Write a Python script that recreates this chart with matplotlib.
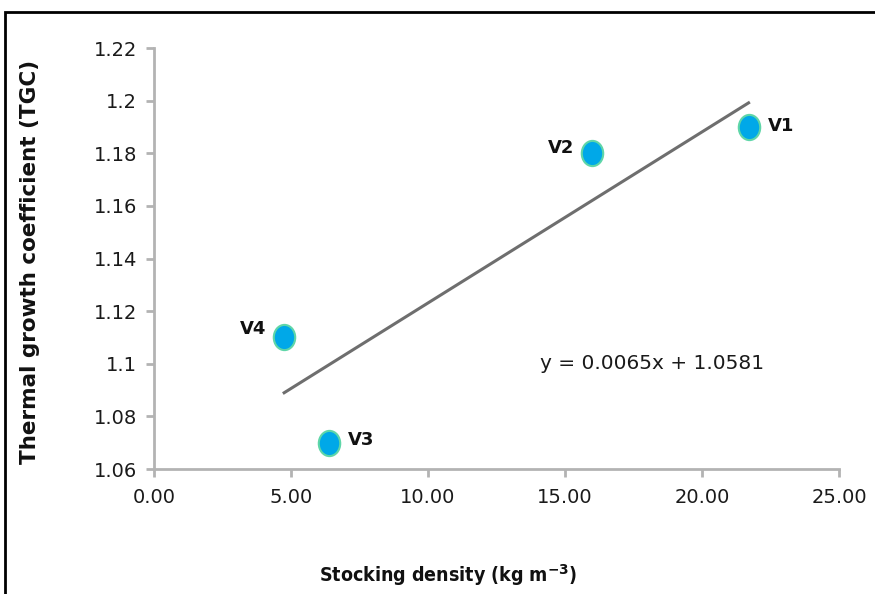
import matplotlib
matplotlib.use("Agg")
import matplotlib.pyplot as plt
from matplotlib.path import Path
from matplotlib.transforms import Affine2D
from matplotlib.patches import Rectangle
import numpy as np

# Data
labels = ["V1", "V2", "V3", "V4"]
density = [21.7, 16.0, 6.4, 4.75]
tgc = [1.19, 1.18, 1.07, 1.11]
slope = 0.0065
intercept = 1.0581
equation = "y = 0.0065x + 1.0581"
xticks = [0, 5, 10, 15, 20, 25]
xtick_labels = ["0.00", "5.00", "10.00", "15.00", "20.00", "25.00"]
yticks = [1.06, 1.08, 1.10, 1.12, 1.14, 1.16, 1.18, 1.20, 1.22]
ytick_labels = ["1.06", "1.08", "1.1", "1.12", "1.14", "1.16", "1.18", "1.2", "1.22"]

fig = plt.figure(figsize=(8.75, 5.94), dpi=100)
ax = fig.add_axes([154/875, 1-469/594, (839-154)/875, (469-48)/594])

axis_color = "#b3b3b3"
ax.set_xlim(0, 25)
ax.set_ylim(1.06, 1.22)
for s in ["top", "right"]:
    ax.spines[s].set_visible(False)
for s in ["left", "bottom"]:
    ax.spines[s].set_color(axis_color)
    ax.spines[s].set_linewidth(2)
ax.set_xticks(xticks)
ax.set_xticklabels(xtick_labels)
ax.set_yticks(yticks)
ax.set_yticklabels(ytick_labels)
ax.tick_params(axis="both", colors=axis_color, width=2, length=6, labelsize=14,
               labelcolor="#1a1a1a")
ax.tick_params(axis="x", pad=8)
ax.tick_params(axis="y", pad=6)

# trend line
xs = np.array([min(density), max(density)])
ax.plot(xs, slope * xs + intercept, color="#6e6e6e", lw=2.2, zorder=2)

# elliptical marker
ell = Path.unit_circle().transformed(Affine2D().scale(0.85, 1.0))
ax.scatter(density, tgc, marker=ell, s=330, facecolor="#00a8e8",
           edgecolor="#5fd6a8", linewidth=1.5, zorder=3)

offsets = {"V1": (14, 1, "left"), "V2": (-13, 4, "right"),
           "V3": (13, 2, "left"), "V4": (-13, 6, "right")}
for lab, x, y in zip(labels, density, tgc):
    dx, dy, ha = offsets[lab]
    ax.annotate(lab, (x, y), xytext=(dx, dy), textcoords="offset points",
                ha=ha, va="center", fontsize=13, fontweight="bold", color="#111111")

ax.text(14.1, 1.1, equation, fontsize=14.5, color="#1a1a1a", va="center", ha="left")

fig.text(30/875, 1-262/594, "Thermal growth coefficient (TGC)", rotation=90,
         ha="center", va="center", fontsize=15.5, fontweight="bold", color="#111111")
fig.text(448/875, 1-575/594, "Stocking density (kg m$^{\\mathbf{-3}}$)",
         ha="center", va="center", fontsize=14, fontweight="bold", color="#111111",
         fontstretch="condensed")

fig.patches.append(Rectangle((5/875, -0.05), 1.2, 1-12/594+0.05, transform=fig.transFigure,
                             fill=False, edgecolor="black", linewidth=2))

fig.savefig("out.png", dpi=100)
